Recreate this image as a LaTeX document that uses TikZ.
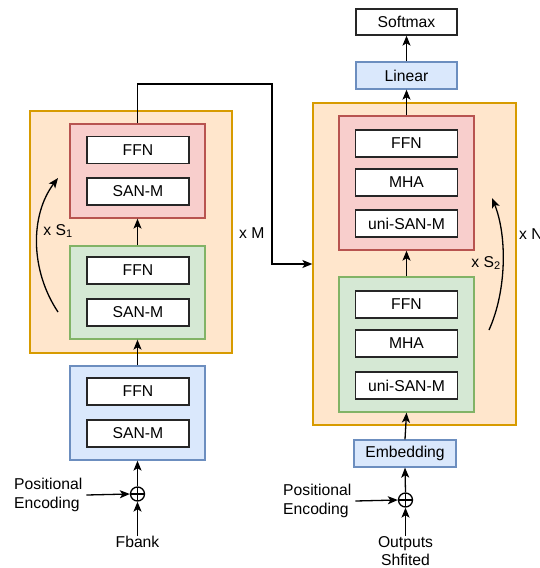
\documentclass[tikz,border=0pt]{standalone}
\usepackage{fontspec}
\setmainfont{Liberation Sans}
\usetikzlibrary{arrows.meta}
\definecolor{orfill}{HTML}{FFE6CC}\definecolor{ordraw}{HTML}{D79B00}
\definecolor{rdfill}{HTML}{F8CECC}\definecolor{rddraw}{HTML}{B85450}
\definecolor{grfill}{HTML}{D5E8D4}\definecolor{grdraw}{HTML}{82B366}
\definecolor{blfill}{HTML}{DAE8FC}\definecolor{bldraw}{HTML}{6C8EBF}
\begin{document}
\begin{tikzpicture}[x=1pt,y=-1pt,
  every node/.style={font=\fontsize{15.7}{18.5}\selectfont, inner sep=0pt},
  frame/.style={draw, line width=1.3pt, minimum width=#1},
  obox/.style={draw=ordraw, fill=orfill, line width=1.3pt},
  rbox/.style={draw=rddraw, fill=rdfill, line width=1.3pt, minimum width=135pt},
  gbox/.style={draw=grdraw, fill=grfill, line width=1.3pt, minimum width=135pt},
  bbox/.style={draw=bldraw, fill=blfill, line width=1.3pt},
  wbox/.style={draw=black!85, fill=white, line width=1.3pt, minimum width=102pt, minimum height=27pt},
  arr/.style={line width=1.3pt, -{Stealth[length=10pt,width=8pt,inset=2.5pt]}},
  oplus/.style={circle, draw, line width=1.3pt, minimum size=14pt,
    path picture={\draw[line width=1.3pt] (path picture bounding box.north) -- (path picture bounding box.south)
      (path picture bounding box.west) -- (path picture bounding box.east);}},
]
\useasboundingbox (0,0) rectangle (540,568);
% ---------- left encoder ----------
\node[obox, minimum width=202pt, minimum height=242pt] (orL) at (131,232) {};
\node[rbox, minimum height=94pt] (redL) at (137.5,171) {};
\node[wbox] (ffnLa) at (138,150) {FFN};
\node[wbox] (sanLa) at (138,191.5) {SAN-M};
\node[gbox, minimum height=93pt] (grL) at (137.5,292.5) {};
\node[wbox] (ffnLb) at (138,270.5) {FFN};
\node[wbox] (sanLb) at (138,312.5) {SAN-M};
\node[bbox, minimum width=135pt, minimum height=94pt] (blL) at (137.5,413) {};
\node[wbox] (ffnLc) at (138,391.5) {FFN};
\node[wbox] (sanLc) at (138,433.5) {SAN-M};
\node[oplus] (opL) at (137.5,494) {};
\node[anchor=west, align=left] (peL) at (14,495) {Positional\\Encoding};
\node (fbank) at (137.5,542) {Fbank};
\node (s1) at (58,231) {x S\textsubscript{1}};
\node[anchor=west] (xM) at (239,233) {x M};
% ---------- right decoder ----------
\node[wbox, minimum width=101pt, minimum height=26pt] (soft) at (406.5,22) {Softmax};
\node[bbox, minimum width=101pt, minimum height=27pt] (lin) at (406.5,75.5) {Linear};
\node[obox, minimum width=203pt, minimum height=322pt] (orR) at (414.5,264) {};
\node[rbox, minimum height=134pt] (redR) at (406.5,183) {};
\node[wbox] (ffnRa) at (406.5,143.5) {FFN};
\node[wbox] (mhaRa) at (406.5,182.5) {MHA};
\node[wbox] (uniRa) at (406.5,223.5) {uni-SAN-M};
\node[gbox, minimum height=135pt] (grR) at (406.5,344.5) {};
\node[wbox] (ffnRb) at (406.5,304.5) {FFN};
\node[wbox] (mhaRb) at (406.5,343.5) {MHA};
\node[wbox] (uniRb) at (406.5,385.5) {uni-SAN-M};
\node[bbox, minimum width=102pt, minimum height=27pt] (emb) at (405,453.5) {Embedding};
\node[oplus] (opR) at (405.5,500) {};
\node[anchor=west, align=left] (peR) at (283,501) {Positional\\Encoding};
\node[align=center] (outs) at (405.5,551) {Outputs\\Shfited};
\node (s2) at (486,263) {x S\textsubscript{2}};
\node[anchor=west] (xN) at (519,234) {x N};
% ---------- connectors ----------
\draw[arr] (fbank.north) -- (opL.south);
\draw[arr] ([xshift=4pt]peL.east) -- (opL.west);
\draw[arr] (opL.north) -- (blL.south);
\draw[arr] (blL.north) -- (grL.south);
\draw[arr] (grL.north) -- (redL.south);
\coordinate (bend) at (272,84);
\draw[arr] (redL.north) |- (bend) |- (orR.west);
\draw[arr] (outs.north) -- (opR.south);
\draw[arr] ([xshift=4pt]peR.east) -- (opR.west);
\draw[arr] (opR.north) -- (emb.south);
\draw[arr] (emb.north) -- (grR.south);
\draw[arr] (grR.north) -- (redR.south);
\draw[arr] (redR.north) -- (lin.south);
\draw[arr] (lin.north) -- (soft.south);
\coordinate (c1a) at (58,312);
\coordinate (c1b) at (58,178);
\draw[arr] (c1a) .. controls (30,270) and (30,215) .. (c1b);
\coordinate (c2a) at (489,330);
\coordinate (c2b) at (492,198);
\draw[arr] (c2a) .. controls (507,290) and (507,235) .. (c2b);
\end{tikzpicture}
\end{document}
